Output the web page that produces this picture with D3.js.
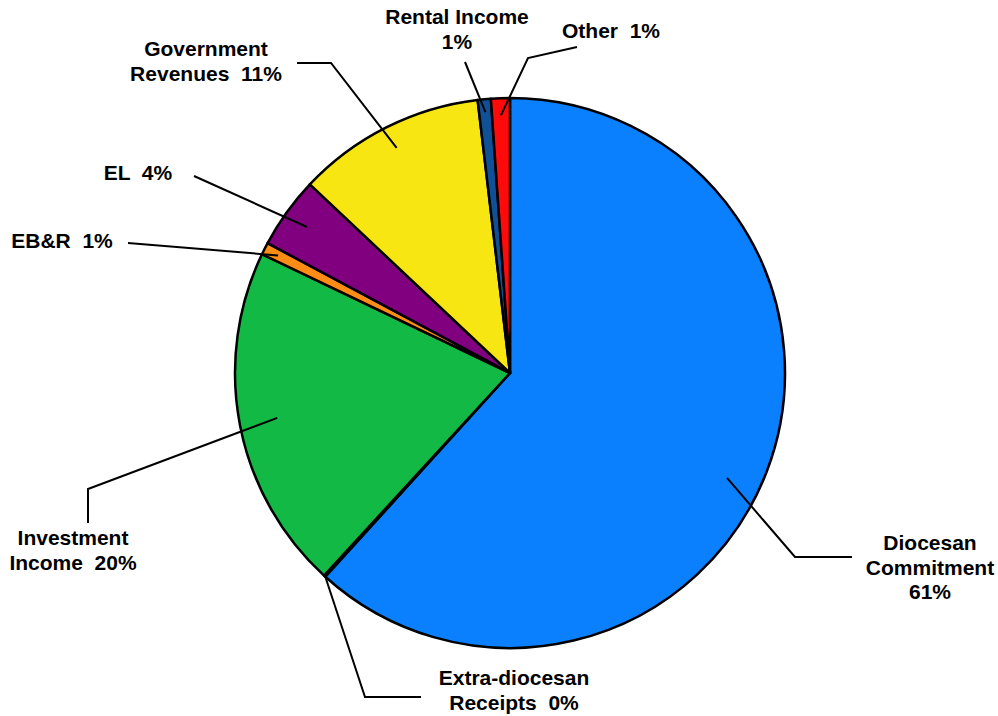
<!DOCTYPE html>
<html>
<head>
<meta charset="utf-8">
<script src="https://cdn.jsdelivr.net/npm/d3@7"></script>
<style>
  body { margin: 0; background: #fff; }
  text { font-family: "Liberation Sans", Arial, sans-serif; font-weight: bold; font-size: 21px; fill: #000; white-space: pre; }
</style>
</head>
<body>
<div id="chart-area"></div>
<script>
// slice data, clockwise from 12 o'clock
const categories = ["Diocesan Commitment", "Extra-diocesan Receipts", "Investment Income", "EB&R", "EL",
  "Government Revenues", "Rental Income", "Other"]
const values = [61.75, 0.1, 20.3, 0.72, 4.2, 11.1, 0.77, 1.11]
const pctLabels = ["61%", "0%", "20%", "1%", "4%", "11%", "1%", "1%"]
const colors = ["#0A80FF", "#A0A0A0", "#12BA45", "#FF8C14", "#800080", "#F7E611", "#0F5096", "#FF0A0A"]

const width = 998
const height = 716
const cx = 510
const cy = 373
const radius = 275

// label layout: text lines, centre x, first baseline, leader points (outer end first), anchor radius
const labelLayout = [
  { lines: ["Diocesan", "Commitment", "61%"], x: 930, y: 550, lead: [[852, 557], [795, 557]], r: 241, da: 4.7 },
  { lines: ["Extra-diocesan", "Receipts  0%"], x: 514, y: 685, lead: [[421, 697], [365, 697]], r: 275, edge: true },
  { lines: ["Investment", "Income  20%"], x: 73, y: 545, lead: [[88, 523], [88, 489]], r: 237 },
  { lines: ["EB&R  1%"], x: 62, y: 248, lead: [[128, 243]], r: 260 },
  { lines: ["EL  4%"], x: 138, y: 180, lead: [[194, 176]], r: 250 },
  { lines: ["Government", "Revenues  11%"], x: 206, y: 56, lead: [[297, 63], [331, 63]], r: 252 },
  { lines: ["Rental Income", "1%"], x: 457, y: 24, lead: [[465, 62]], r: 262 },
  { lines: ["Other  1%"], x: 611, y: 38, lead: [[577, 47], [528, 58]], r: 258 },
]

const svg = d3.select("#chart-area").append("svg")
  .attr("width", width)
  .attr("height", height)

const g = svg.append("g")
  .attr("transform", `translate(${cx}, ${cy})`)

const pie = d3.pie().sort(null).value(d => d)
const arcs = pie(values)

const arc = d3.arc().innerRadius(0).outerRadius(radius)

g.selectAll("path.slice")
  .data(arcs)
  .enter().append("path")
  .attr("class", "slice")
  .attr("d", arc)
  .attr("fill", (d, i) => colors[i])
  .attr("stroke", "#000")
  .attr("stroke-width", 2.5)
  .attr("stroke-linejoin", "round")

// leader lines
const line = d3.line()
arcs.forEach((d, i) => {
  const lay = labelLayout[i]
  let a = lay.edge ? d.startAngle : (d.startAngle + d.endAngle) / 2
  if (lay.da) a += lay.da * Math.PI / 180
  const p = [cx + lay.r * Math.sin(a), cy - lay.r * Math.cos(a)]
  svg.append("path")
    .attr("d", line(lay.lead.concat([p])))
    .attr("fill", "none")
    .attr("stroke", "#000")
    .attr("stroke-width", 2)
})

// labels
labelLayout.forEach((lay, i) => {
  const t = svg.append("text")
    .attr("text-anchor", "middle")
    .attr("x", lay.x)
    .attr("y", lay.y)
  lay.lines.forEach((s, j) => {
    t.append("tspan")
      .attr("x", lay.x)
      .attr("dy", j === 0 ? 0 : 24.5)
      .text(s)
  })
})
</script>
</body>
</html>
